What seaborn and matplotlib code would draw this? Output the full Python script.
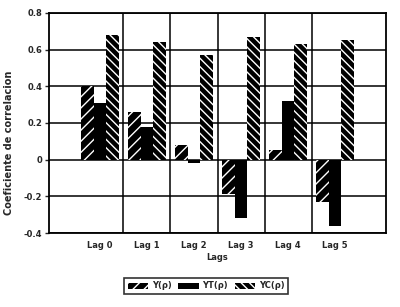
import matplotlib
matplotlib.use("Agg")
import matplotlib.pyplot as plt
import seaborn as sns
import pandas as pd
from matplotlib.patches import Patch

categories = ["Lag 0", "Lag 1", "Lag 2", "Lag 3", "Lag 4", "Lag 5"]
series_names = ["Y(ρ)", "YT(ρ)", "YC(ρ)"]
y_vals = [0.40, 0.26, 0.08, -0.19, 0.05, -0.23]
yt_vals = [0.31, 0.18, -0.02, -0.32, 0.32, -0.36]
yc_vals = [0.68, 0.64, 0.57, 0.67, 0.63, 0.65]
y_ticks = [-0.4, -0.2, 0, 0.2, 0.4, 0.6, 0.8]
y_tick_labels = ["-0.4", "-0.2", "0", "0.2", "0.4", "0.6", "0.8"]

rows = []
for name, vals in zip(series_names, [y_vals, yt_vals, yc_vals]):
    for c, v in zip(categories, vals):
        rows.append({"Lag": c, "Serie": name, "Valor": v})
df = pd.DataFrame(rows)

sns.set_style("white")
plt.rcParams["font.family"] = ["DejaVu Sans"]
plt.rcParams["hatch.linewidth"] = 1.0

fig = plt.figure(figsize=(4.0, 3.07), dpi=100)
ax = fig.add_axes([0.1225, 0.241, 0.8425, 0.717])

sns.barplot(data=df, x="Lag", y="Valor", hue="Serie", order=categories,
            hue_order=series_names, palette=["black", "black", "black"],
            width=0.79, ax=ax, legend=False, errorbar=None, zorder=3)

hatches = ["///", "", "\\\\\\\\"]
n = len(categories)
for i, p in enumerate(ax.patches[: 3 * n]):
    h = hatches[i // n]
    p.set_facecolor("black")
    p.set_edgecolor("white")
    p.set_linewidth(0)
    p.set_hatch(h)

ax.set_xlim(-1.085, 6.085)
ax.set_ylim(-0.4, 0.8)
ax.set_yticks(y_ticks)
ax.set_yticklabels(y_tick_labels, fontsize=6, fontweight="bold")
ax.set_xticks(range(n))
ax.set_xticklabels(categories, fontsize=6, fontweight="bold")
ax.tick_params(axis="x", length=0, pad=6)
ax.tick_params(axis="y", length=3, width=1, direction="out", left=True, pad=2)

for yv in y_ticks:
    ax.axhline(yv, color="black", lw=1.1, zorder=1)
for xv in [0.5, 1.5, 2.5, 3.5, 4.5]:
    ax.axvline(xv, color="black", lw=1.1, zorder=1)
for s in ax.spines.values():
    s.set_visible(True)
    s.set_color("black")
    s.set_linewidth(1.3)

ax.set_xlabel("Lags", fontsize=6, fontweight="bold", labelpad=2)
ax.set_ylabel("Coeficiente de correlacion", fontsize=7, fontweight="bold")
ax.yaxis.set_label_coords(-0.105, 0.41)

handles = [Patch(facecolor="black", edgecolor="white", hatch=h, linewidth=0) for h in hatches]
leg = fig.legend(handles, series_names, loc="center", bbox_to_anchor=(206 / 400, 1 - 286 / 307),
                 ncol=3, frameon=True, fancybox=False, edgecolor="black",
                 prop={"size": 6, "weight": "bold"}, handlelength=2.5, handletextpad=0.4,
                 columnspacing=0.8, borderpad=0.4)
leg.get_frame().set_linewidth(1.2)

fig.savefig("out.png", dpi=100)
